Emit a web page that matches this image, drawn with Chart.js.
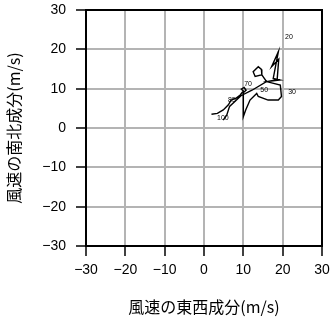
<!DOCTYPE html>
<html>
<head>
<meta charset="utf-8">
<script src="https://cdn.jsdelivr.net/npm/chart.js@4"></script>
<style>
  html, body { margin: 0; padding: 0; background: #fff; }
  #wrap { width: 332px; height: 319px; }
</style>
</head>
<body>
<div id="wrap"><canvas id="hodo"></canvas></div>
<script>
// hodograph, u = east-west, v = north-south (m/s)
var hodoU = [1.9, 3.4, 4.9, 6.2, 6.9, 8.2, 9.2, 10.0, 9.5, 10.2, 10.7, 10.0, 10.0, 10.6, 11.7, 13.0, 13.4, 13.8, 16.3, 18.9, 19.7, 19.4, 15.9, 19.3, 17.6, 18.9, 17.2, 19.0, 18.6, 15.9, 14.7, 13.0, 12.5, 13.8, 14.6, 14.7, 15.9, 12.2, 9.4, 6.5, 5.8, 4.9];
var hodoV = [3.5, 3.7, 4.6, 5.9, 7.1, 7.6, 8.4, 9.4, 9.9, 10.3, 9.6, 9.0, 2.9, 4.6, 7.1, 8.4, 8.8, 8.0, 7.1, 7.1, 8.0, 10.9, 11.8, 12.2, 12.6, 19.4, 15.6, 17.5, 12.3, 11.8, 13.5, 13.1, 14.3, 15.6, 14.9, 13.5, 11.8, 9.6, 8.2, 5.5, 3.3, 2.0];

// level labels along the curve
var levelText = ['20', '30', '50', '70', '85', '100'];
var levelU = [21.6, 22.4, 15.3, 11.2, 7.1, 4.8];
var levelV = [23.1, 9.2, 9.7, 11.2, 7.1, 2.5];

var axisTicks = [-30, -20, -10, 0, 10, 20, 30];

var points = [];
for (let i = 0; i < hodoU.length; i++) {
  points.push({ x: hodoU[i], y: hodoV[i] });
}

function tickText (v) {
  return v < 0 ? '\u2212' + Math.abs(v) : String(v);
}

var levelPlugin = {
  id: 'levels',
  afterDatasetsDraw: function (chart) {
    const ctx = chart.ctx;
    const xs = chart.scales.x;
    const ys = chart.scales.y;
    ctx.save();
    ctx.fillStyle = '#000';
    ctx.font = '7px "Liberation Sans", sans-serif';
    ctx.textAlign = 'center';
    ctx.textBaseline = 'middle';
    for (let i = 0; i < levelText.length; i++) {
      ctx.fillText(levelText[i], xs.getPixelForValue(levelU[i]), ys.getPixelForValue(levelV[i]));
    }
    ctx.restore();
  }
};

var framePlugin = {
  id: 'frame',
  afterDraw: function (chart) {
    const a = chart.chartArea;
    const ctx = chart.ctx;
    ctx.save();
    ctx.strokeStyle = '#000';
    ctx.lineWidth = 2;
    ctx.strokeRect(a.left, a.top, a.right - a.left, a.bottom - a.top);
    ctx.restore();
  }
};

var tickFont = { family: '"Liberation Sans", Arial, sans-serif', size: 14 };
var titleFont = { family: '"Noto Sans CJK JP", sans-serif', size: 16 };

new Chart(document.getElementById('hodo'), {
  type: 'scatter',
  data: {
    datasets: [{
      data: points,
      showLine: true,
      borderColor: '#000',
      borderWidth: 1.4,
      pointRadius: 0,
      tension: 0
    }]
  },
  options: {
    responsive: true,
    maintainAspectRatio: false,
    animation: false,
    layout: { padding: { top: 10, right: 10, left: 0, bottom: 0 } },
    plugins: { legend: { display: false }, tooltip: { enabled: false } },
    scales: {
      x: {
        min: -30, max: 30,
        afterBuildTicks: function (s) { s.ticks = axisTicks.map(function (v) { return { value: v }; }); },
        afterFit: function (s) { s.height = 73; s.paddingLeft = 0; s.paddingRight = 0; },
        grid: { color: '#b4b4b4', lineWidth: 2, tickColor: '#000', tickLength: 10, tickWidth: 1.5 },
        border: { display: true, color: '#000', width: 2 },
        ticks: { color: '#000', font: tickFont, padding: 6, maxRotation: 0, callback: tickText },
        title: { display: true, text: '風速の東西成分(m/s)', color: '#000', font: Object.assign({}, titleFont, { lineHeight: '24px' }), padding: 0 }
      },
      y: {
        min: -30, max: 30,
        afterBuildTicks: function (s) { s.ticks = axisTicks.map(function (v) { return { value: v }; }); },
        afterFit: function (s) { s.width = 86; s.paddingTop = 0; s.paddingBottom = 0; },
        grid: { color: '#b4b4b4', lineWidth: 2, tickColor: '#000', tickLength: 10, tickWidth: 1.5 },
        border: { display: true, color: '#000', width: 2 },
        ticks: { color: '#000', font: tickFont, padding: 10, callback: tickText },
        title: { display: true, text: '風速の南北成分(m/s)', color: '#000', font: Object.assign({}, titleFont, { lineHeight: '28px' }), padding: 0 }
      }
    }
  },
  plugins: [levelPlugin, framePlugin]
});
</script>
</body>
</html>
